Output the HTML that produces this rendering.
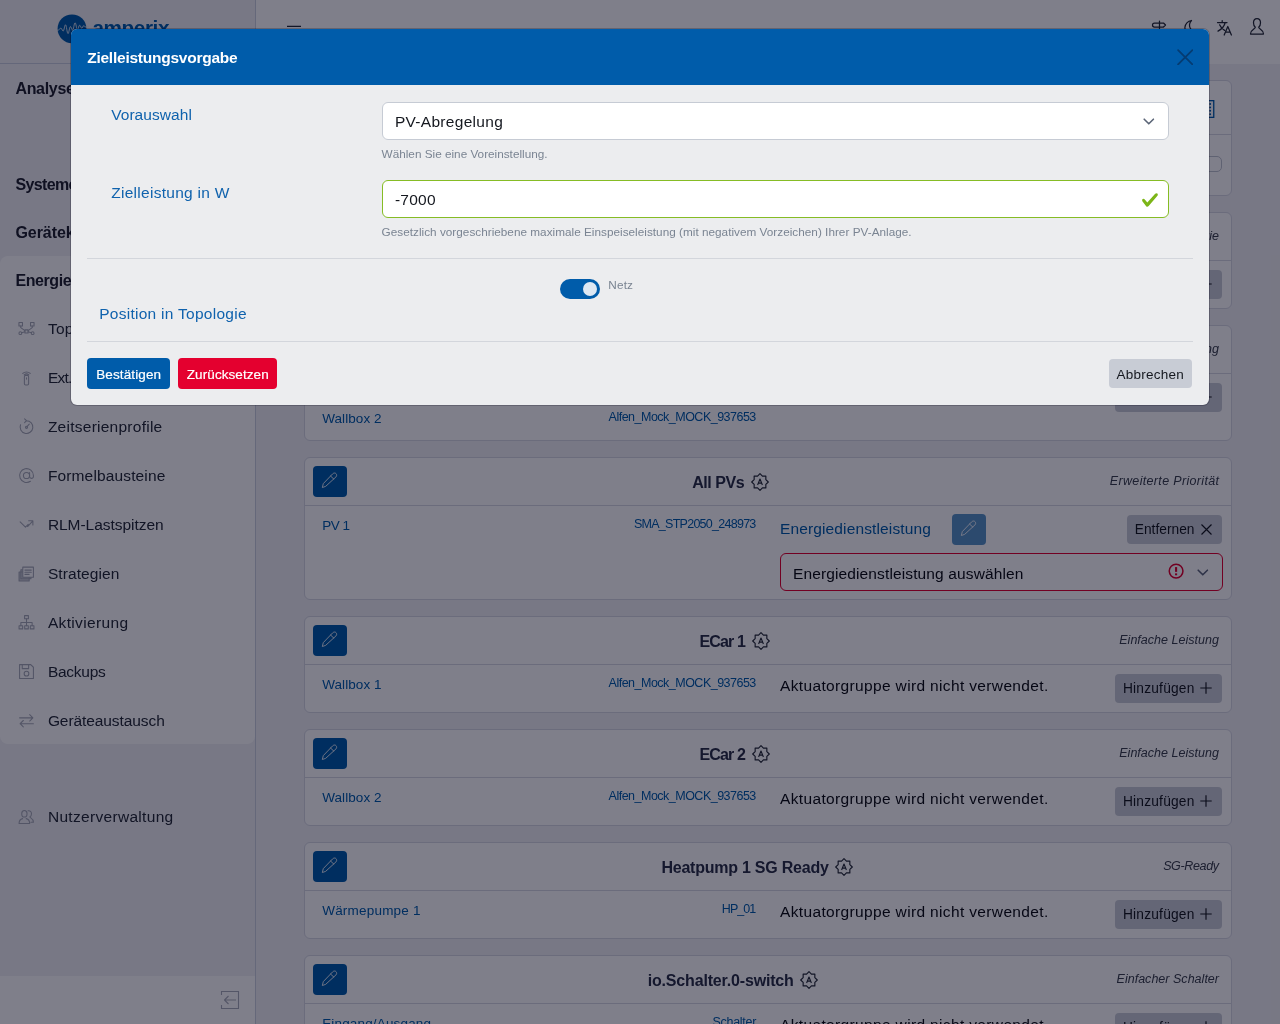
<!DOCTYPE html>
<html lang="de">
<head>
<meta charset="utf-8">
<title>amperix – Zielleistungsvorgabe</title>
<style>
*{box-sizing:border-box;margin:0;padding:0}
html,body{width:1280px;height:1024px;overflow:hidden}
body{position:relative;background:#f3f4f7;font-family:"Liberation Sans",sans-serif;color:#252b36;font-size:16px}
.t{position:absolute;white-space:nowrap;line-height:1}
.abs{position:absolute;display:block}
.wb{-webkit-text-stroke:.2px #fff}
button{font:inherit;border:0;background:none;position:absolute;display:block;text-align:left}
#app{position:absolute;left:0;top:0;width:1280px;height:1024px;overflow:hidden;background:#f0f0f4}
aside{position:absolute;left:0;top:0;width:256px;height:1024px;background:#f0f0f4;border-right:1px solid #cbd0df}
header{position:absolute;left:256px;top:0;width:1024px;height:64px;background:#fff}
header .abs{margin-left:-256px}
main{position:absolute;left:0;top:0;width:1280px;height:1024px}
.vhr{position:absolute;background:#c8cedf;display:block}
.grp{position:absolute;background:#fff;border-radius:8px}
.nl{position:absolute;left:0;width:255px;height:48px;display:block;color:#a6aab6}
.ni{position:absolute;left:17.500px;top:16.500px}
.sfoot{position:absolute;left:0;top:976px;width:255px;height:48px;background:#fff}
.card{position:absolute;background:#fff;border:1px solid #d6d8e3;border-radius:6px;box-sizing:content-box}
.ci{position:absolute;left:1px;top:0;width:925px;height:100%}
.hr{position:absolute;left:-1px;right:0;height:1px;background:#d6d8e3;display:block}
.ebtn{width:34px;height:31px;border-radius:4px;background:#005caa;color:#e8eef6}
.ebtn .ic{position:absolute;left:8.400px;top:6.100px}
.gbtn{height:29px;border-radius:4px;background:#c9cdd6}
.pbtn{height:31px;border-radius:4px}
.sel{position:absolute;background:#fff;border:1px solid #c6cbd4;border-radius:6px;box-sizing:content-box}
.sel.inv{border-color:#e4002f}
.sel.val{border-color:#86bc25}
.sw{position:absolute;width:32px;height:16px;border:1px solid #bfc4ce;border-radius:5px;background:#fff}
#backdrop{position:absolute;left:0;top:0;width:1280px;height:1024px;background:rgba(0,0,21,.5)}
#modal{position:absolute;left:70px;top:28px;width:1140px;height:378px;border:1px solid rgba(0,0,21,.22);border-radius:7px;background:#ecedef;background-clip:padding-box;overflow:hidden}
.mhead{position:absolute;left:0;top:0;width:1138px;height:56px;background:#005caa}
.mhr{position:absolute;left:16px;width:1106px;height:1px;background:#d3d6dc;display:block}
.tog{position:absolute;width:40px;height:20px;border-radius:10px;background:#005caa}
.tog i{position:absolute;left:23px;top:3px;width:14px;height:14px;border-radius:7px;background:#dde8f3}
</style>
</head>
<body>
<div id="app">
<aside>
<div class="brand"><svg class="abs" style="left:55px;top:12px" width="36" height="34" viewBox="0 0 36 34"><circle cx="17" cy="16.8" r="14.4" fill="#005caa"/><path d="M2.600 18.400c1.600-.2 2.400-2.400 3.400-2.200s1.200 2.800 2.200 2.800 1.300-6.200 2.300-6.200 1.500 8.800 2.500 8.800 1.400-7 2.400-7 1.300 3.600 2.200 3.600 1.500-7.400 2.500-7.400 1.300 6.800 2.300 6.800 1.300-4.400 2.200-4.400 1.300 3 2.100 3 1.300-2.600 2.100-2.600 1.300 1.700 2.200 1.600 1.700-.7 2.600-.6" fill="none" stroke="#dfe6f0" stroke-width="0.9" stroke-linejoin="round" stroke-linecap="round"/></svg><span class="t logo" style="left:92.50px;top:18.14px;font-size:20.75px;color:#005caa;font-weight:700;letter-spacing:-0.441px">amperix</span></div>
<i class="vhr" style="left:0;top:63px;width:255px;height:1px"></i>
<div class="grp" style="left:0;top:256px;width:255px;height:488px"></div>
<span class="t nt" style="left:15.40px;top:80.56px;font-size:16.0px;color:#20232f;font-weight:700;letter-spacing:-0.300px">Analyse</span>
<span class="t nt" style="left:15.40px;top:176.56px;font-size:16.0px;color:#20232f;font-weight:700;letter-spacing:-0.620px">Systemeinstellungen</span>
<span class="t nt" style="left:15.40px;top:224.56px;font-size:16.0px;color:#20232f;font-weight:700;letter-spacing:-0.040px">Gerätekonfiguration</span>
<span class="t nt" style="left:15.40px;top:272.56px;font-size:16.0px;color:#20232f;font-weight:700;letter-spacing:-0.410px">Energiemanagement</span>
<a class="nl" style="top:303.7px"><svg class="ni" viewBox="0 0 16 16" width="17" height="17" fill="none" stroke="currentColor" stroke-width="1" stroke-linecap="round" stroke-linejoin="round"><rect x="0.900" y="2.300" width="3.300" height="3.300"/><rect x="11.800" y="2.300" width="3.300" height="3.300"/><rect x="6.500" y="9.300" width="3" height="3"/><circle cx="2.200" cy="12.400" r="1.300"/><circle cx="13.800" cy="12.400" r="1.300"/><path d="M2.600 5.600v1.600l3.900 2.800M13.400 5.600v1.600l-3.900 2.800M3.500 12l3-.900M12.500 12l-3-.900"/></svg><span class="t" style="left:47.90px;top:17.18px;font-size:15.5px;color:#252b36;letter-spacing:0.293px">Topologie</span></a>
<a class="nl" style="top:352.6px"><svg class="ni" viewBox="0 0 16 16" width="17" height="17" fill="none" stroke="currentColor" stroke-width="1" stroke-linecap="round" stroke-linejoin="round"><rect x="6" y="6" width="4" height="9" rx="1.2"/><path d="M4.5 4.2a5 5 0 0 1 7 0M5.8 5.6a3.2 3.2 0 0 1 4.4 0M8 8.3v1.2"/></svg><span class="t" style="left:47.90px;top:17.18px;font-size:15.5px;color:#252b36;letter-spacing:-0.750px">Ext. Steuerung</span></a>
<a class="nl" style="top:401.5px"><svg class="ni" viewBox="0 0 16 16" width="17" height="17" fill="none" stroke="currentColor" stroke-width="1" stroke-linecap="round" stroke-linejoin="round"><path d="M8 2.5a6 6 0 1 1-5.6 3.8M8 2.5l-1.8-1.7M8 2.5L6.2 4.3M8 8.5l2.6-2.8"/><circle cx="8" cy="8.8" r="1"/></svg><span class="t" style="left:47.90px;top:17.18px;font-size:15.5px;color:#252b36;letter-spacing:0.255px">Zeitserienprofile</span></a>
<a class="nl" style="top:450.5px"><svg class="ni" viewBox="0 0 16 16" width="17" height="17" fill="none" stroke="currentColor" stroke-width="1" stroke-linecap="round" stroke-linejoin="round"><circle cx="8" cy="8" r="2.900"/><path d="M10.900 5.100v3.800a1.800 1.800 0 0 0 3.600 0V8a6.500 6.500 0 1 0-2.800 5.400"/></svg><span class="t" style="left:47.90px;top:17.18px;font-size:15.5px;color:#252b36;letter-spacing:0.143px">Formelbausteine</span></a>
<a class="nl" style="top:499.5px"><svg class="ni" viewBox="0 0 16 16" width="17" height="17" fill="none" stroke="currentColor" stroke-width="1" stroke-linecap="round" stroke-linejoin="round"><path d="M2 5.5l5 5 2.6-2.6M14 4.5l-5 5.4M10 4.5h4v4"/></svg><span class="t" style="left:47.90px;top:17.18px;font-size:15.5px;color:#252b36;letter-spacing:-0.040px">RLM-Lastspitzen</span></a>
<a class="nl" style="top:548.5px"><svg class="ni" viewBox="0 0 16 16" width="17" height="17" fill="none" stroke="currentColor" stroke-width="1" stroke-linecap="round" stroke-linejoin="round"><path d="M1 6.500h9.500v8.500h-9.500zM2.700 4.500h9.500v8.500h-9.500z" fill="currentColor" fill-opacity=".55"/><path d="M4.500 2h10v9.500h-10z" fill="#fff"/><path d="M6.500 4.800h6M6.500 6.800h6M6.500 8.800h4"/></svg><span class="t" style="left:47.90px;top:17.18px;font-size:15.5px;color:#252b36;letter-spacing:0.084px">Strategien</span></a>
<a class="nl" style="top:597.5px"><svg class="ni" viewBox="0 0 16 16" width="17" height="17" fill="none" stroke="currentColor" stroke-width="1" stroke-linecap="round" stroke-linejoin="round"><rect x="6.2" y="1.5" width="3.6" height="3"/><rect x="1" y="11" width="3.4" height="3"/><rect x="6.3" y="11" width="3.4" height="3"/><rect x="11.6" y="11" width="3.4" height="3"/><path d="M8 4.5v6.5M2.7 11V8h10.6v3"/></svg><span class="t" style="left:47.90px;top:17.18px;font-size:15.5px;color:#252b36;letter-spacing:0.348px">Aktivierung</span></a>
<a class="nl" style="top:646.5px"><svg class="ni" viewBox="0 0 16 16" width="17" height="17" fill="none" stroke="currentColor" stroke-width="1" stroke-linecap="round" stroke-linejoin="round"><path d="M1.5 1.5h10.5l2.500 2.5v10.500h-13zM4 1.500v3.800h6v-3.800"/><circle cx="8" cy="10" r="2.2"/></svg><span class="t" style="left:47.90px;top:17.18px;font-size:15.5px;color:#252b36;letter-spacing:-0.250px">Backups</span></a>
<a class="nl" style="top:695.5px"><svg class="ni" viewBox="0 0 16 16" width="17" height="17" fill="none" stroke="currentColor" stroke-width="1" stroke-linecap="round" stroke-linejoin="round"><path d="M1.500 5.5h12.500M11 2.500l3 3-3 3M14.500 11h-12.500M5 8l-3 3 3 3"/></svg><span class="t" style="left:47.90px;top:17.18px;font-size:15.5px;color:#252b36;letter-spacing:-0.083px">Geräteaustausch</span></a>
<a class="nl" style="top:791.6px"><svg class="ni" viewBox="0 0 16 16" width="17" height="17" fill="none" stroke="currentColor" stroke-width="1" stroke-linecap="round" stroke-linejoin="round"><path d="M6 8.500c-1.600 0-2.500-1.400-2.500-3.200s.9-3 2.500-3 2.500 1.200 2.500 3-.9 3.200-2.500 3.200zM1 14.500c0-2.500 1.500-4 3.300-4.500M11 14.500c0-2.500-1.500-4-3.300-4.500M1 14.500h10M9.500 2.600c1.800-.4 3.200.8 3.200 2.800 0 1.500-.6 2.600-1.600 3 .3 1 3.400 1.200 3.400 5h-2.300"/></svg><span class="t" style="left:47.90px;top:17.18px;font-size:15.5px;color:#252b36;letter-spacing:0.312px">Nutzerverwaltung</span></a>
<div class="sfoot"><svg class="abs" style="left:220px;top:14px" width="20" height="20" viewBox="0 0 20 20" fill="none" stroke="#a9adb8" stroke-width="1.100"><path d="M5.5 1.500h13v17h-13M1.500 5v-3.500h4M1.500 15v3.500h4" /><path d="M16 10h-11.500M8.500 6l-4 4 4 4" stroke-linejoin="round"/></svg></div>
</aside>
<header>
<svg class="abs" style="left:286px;top:24px" width="16" height="16" viewBox="0 0 16 16" stroke="#252b36" stroke-width="1.3" fill="none"><path d="M1 2.400h14M1 8h14M1 13.600h14"/></svg>
<svg class="abs" style="left:1151px;top:19.500px" width="18" height="18" viewBox="0 0 18 18" fill="none" stroke="#252b36" stroke-width="1.25" stroke-linecap="round" stroke-linejoin="round"><path d="M8.500 1v16M3.500 3h9l2 2-2 2h-9a1.800 1.800 0 0 1 0-4zM14.500 9.500h-9l-2 2 2 2h9z"/></svg>
<svg class="abs" style="left:1183px;top:19px" width="18" height="18" viewBox="0 0 18 18" fill="none" stroke="#252b36" stroke-width="1.25" stroke-linecap="round" stroke-linejoin="round"><path d="M8.500 1.500a7.500 7.500 0 1 0 7.800 10.300 6.500 6.500 0 0 1-7.800-10.300z"/></svg>
<svg class="abs" style="left:1216px;top:19px" width="18" height="18" viewBox="0 0 18 18" fill="none" stroke="#252b36" stroke-width="1.25" stroke-linecap="round" stroke-linejoin="round"><path d="M1.500 3.500h9.500M6.200 1.500v2M9.200 3.500c-.8 3.600-3.400 6.600-7.200 8.600M3.600 5.800c1 2.400 2.600 4.200 5 5.600M8.200 16l3.600-8.500 3.600 8.500M9.500 13.200h4.600"/></svg>
<svg class="abs" style="left:1248px;top:17px" width="18" height="19" viewBox="0 0 18 19" fill="none" stroke="#252b36" stroke-width="1.25" stroke-linecap="round" stroke-linejoin="round"><path d="M9 1.500c2.300 0 3.500 1.700 3.500 4.200 0 2-.8 3.700-1.800 4.600 0 1.800 4.500 2 4.800 6.700h-13c.3-4.700 4.800-4.900 4.800-6.700-1-.9-1.800-2.600-1.800-4.600 0-2.500 1.200-4.200 3.500-4.200z"/></svg>
</header>
<main>
<section class="card" style="left:304px;top:80px;width:926px;height:114px"><div class="ci"><i class="hr" style="top:53px"></i><svg class="abs" style="left:890px;top:18px" width="20" height="20" viewBox="0 0 20 20" fill="none" stroke="#005caa" stroke-width="1.3"><rect x="0.650" y="1.650" width="17.100" height="16.700"/><g fill="#005caa" stroke="none"><circle cx="14.200" cy="5" r="0.950"/><circle cx="14.200" cy="8.400" r="0.950"/><circle cx="14.200" cy="11.800" r="0.950"/><circle cx="14.200" cy="15.200" r="0.950"/><circle cx="4" cy="5" r="0.950"/><circle cx="4" cy="8.400" r="0.950"/><circle cx="4" cy="11.800" r="0.950"/><circle cx="4" cy="15.200" r="0.950"/></g><path d="M6.500 5h5.500M6.500 8.400h5.500M6.500 11.800h5.500M6.500 15.200h5.500" stroke-width="1"/></svg><span class="sw" style="left:884px;top:75px"></span><span class="t" style="left:16.00px;top:20.38px;font-size:15.5px;color:#252b36;font-weight:700;letter-spacing:0.285px">Aktuatorgruppen</span><span class="t" style="left:16.00px;top:76.07px;font-size:13.5px;color:#252b36">Nur verwendete Aktuatorgruppen anzeigen</span></div></section>
<section class="card" style="left:304px;top:212px;width:926px;height:95px"><div class="ci"><button class="ebtn" style="left:7px;top:8px"><svg class="ic" viewBox="0 0 17 17" width="16.200" height="16.200" fill="none" stroke="currentColor" stroke-width="1" stroke-linejoin="round" stroke-linecap="round"><path d="M1.500 15.900l.900-3.700 9.800-10.200c1.300-1.300 3-1.100 3.700-.1.800 1 .700 2.300-.2 3.300l-10.500 9.600z"/><path d="M10 4.200l3.500 3.300"/></svg></button><span class="t h" style="left:330.00px;top:17.38px;font-size:15.5px;color:#252b36;font-weight:700;letter-spacing:-0.040px">Netzanschlusspunkt</span><span class="t" style="right:12.06px;top:17.17px;font-size:12.5px;color:#3a404c;font-style:italic;letter-spacing:-0.064px">Einfache Strategie</span><i class="hr" style="top:47px"></i><span class="t" style="left:16.20px;top:60.82px;font-size:13.5px;color:#005caa;letter-spacing:-0.190px">Netz</span><span class="t" style="right:475.00px;top:59.77px;font-size:12.5px;color:#005caa;letter-spacing:-0.301px">Janitza_UMG604_112233</span><span class="t" style="left:474.00px;top:60.88px;font-size:15.5px;color:#0b0d12;letter-spacing:0.353px">Aktuatorgruppe wird nicht verwendet.</span><button class="gbtn" style="left:809px;top:57px;width:107px"><span class="t" style="left:8.00px;top:8.06px;font-size:13.75px;color:#15181f;letter-spacing:0.194px">Hinzufügen</span><svg class="abs" style="left:85.3px;top:8.2px" width="12" height="12" viewBox="0 0 12 12" stroke="#15181f" stroke-width="1.15" fill="none"><path d="M6 0.3v11.4M0.3 6h11.4"/></svg></button></div></section>
<section class="card" style="left:304px;top:325px;width:926px;height:114px"><div class="ci"><button class="ebtn" style="left:7px;top:8px"><svg class="ic" viewBox="0 0 17 17" width="16.200" height="16.200" fill="none" stroke="currentColor" stroke-width="1" stroke-linejoin="round" stroke-linecap="round"><path d="M1.500 15.900l.900-3.700 9.800-10.200c1.300-1.300 3-1.100 3.700-.1.800 1 .700 2.300-.2 3.300l-10.500 9.600z"/><path d="M10 4.200l3.500 3.300"/></svg></button><span class="t h" style="left:330.00px;top:17.38px;font-size:15.5px;color:#252b36;font-weight:700;letter-spacing:-0.169px">All Wallboxes</span><span class="t" style="right:12.02px;top:17.17px;font-size:12.5px;color:#3a404c;font-style:italic;letter-spacing:-0.022px">Einfache Leistung</span><i class="hr" style="top:47px"></i><span class="t" style="left:16.20px;top:62.07px;font-size:13.5px;color:#005caa;letter-spacing:0.081px">Wallbox 1</span><span class="t" style="right:475.21px;top:61.02px;font-size:12.5px;color:#005caa;letter-spacing:-0.510px">Alfen_Mock_MOCK_937653</span><span class="t" style="left:16.20px;top:86.07px;font-size:13.5px;color:#005caa;letter-spacing:0.081px">Wallbox 2</span><span class="t" style="right:475.21px;top:85.02px;font-size:12.5px;color:#005caa;letter-spacing:-0.510px">Alfen_Mock_MOCK_937653</span><span class="t" style="left:474.00px;top:60.88px;font-size:15.5px;color:#0b0d12;letter-spacing:0.353px">Aktuatorgruppe wird nicht verwendet.</span><button class="gbtn" style="left:809px;top:57px;width:107px"><span class="t" style="left:8.00px;top:8.06px;font-size:13.75px;color:#15181f;letter-spacing:0.194px">Hinzufügen</span><svg class="abs" style="left:85.3px;top:8.2px" width="12" height="12" viewBox="0 0 12 12" stroke="#15181f" stroke-width="1.15" fill="none"><path d="M6 0.3v11.4M0.3 6h11.4"/></svg></button></div></section>
<section class="card" style="left:304px;top:457px;width:926px;height:141px"><div class="ci"><button class="ebtn" style="left:7px;top:8px"><svg class="ic" viewBox="0 0 17 17" width="16.200" height="16.200" fill="none" stroke="currentColor" stroke-width="1" stroke-linejoin="round" stroke-linecap="round"><path d="M1.500 15.900l.900-3.700 9.800-10.200c1.300-1.300 3-1.100 3.700-.1.800 1 .700 2.300-.2 3.300l-10.500 9.600z"/><path d="M10 4.200l3.500 3.300"/></svg></button><span class="t h" style="left:386.20px;top:16.96px;font-size:16.0px;color:#2a3046;font-weight:700;letter-spacing:-0.448px">All PVs</span><svg class="abs" style="left:444.7px;top:14.5px" width="18" height="18" viewBox="0 0 18 18" fill="none" stroke="#252b36" stroke-width="1.15" stroke-linejoin="round"><polygon points="9.00,0.70 11.41,3.18 14.87,3.13 14.82,6.59 17.30,9.00 14.82,11.41 14.87,14.87 11.41,14.82 9.00,17.30 6.59,14.82 3.13,14.87 3.18,11.41 0.70,9.00 3.18,6.59 3.13,3.13 6.59,3.18"/><path d="M6.6 12l2.4-6 2.4 6M7.4 10.1h3.2" stroke-width="1.1"/></svg><span class="t" style="right:11.67px;top:17.42px;font-size:12.5px;color:#3a404c;font-style:italic;letter-spacing:0.335px">Erweiterte Priorität</span><i class="hr" style="top:47px"></i><span class="t" style="left:16.20px;top:60.97px;font-size:13.5px;color:#005caa;letter-spacing:-0.442px">PV 1</span><span class="t" style="right:475.43px;top:59.82px;font-size:12.5px;color:#005caa;letter-spacing:-0.735px">SMA_STP2050_248973</span><span class="t" style="left:474.00px;top:63.38px;font-size:15.5px;color:#005caa;letter-spacing:0.133px">Energiedienstleistung</span><button class="ebtn" style="left:646px;top:56px;opacity:.65"><svg class="ic" viewBox="0 0 17 17" width="16.200" height="16.200" fill="none" stroke="currentColor" stroke-width="1" stroke-linejoin="round" stroke-linecap="round"><path d="M1.500 15.900l.900-3.700 9.800-10.200c1.300-1.300 3-1.100 3.700-.1.800 1 .700 2.300-.2 3.300l-10.500 9.600z"/><path d="M10 4.200l3.500 3.300"/></svg></button><button class="gbtn" style="left:821px;top:57px;width:95px"><span class="t" style="left:7.80px;top:8.26px;font-size:13.75px;color:#15181f">Entfernen</span><svg class="abs" style="left:74.2px;top:9px" width="11" height="11" viewBox="0 0 11 11" stroke="#15181f" stroke-width="1.15" fill="none"><path d="M0.5 0.5l10 10M10.5 0.5l-10 10"/></svg></button><div class="sel inv" style="left:474px;top:95px;width:441px;height:36px;"><span class="t" style="left:12.00px;top:11.68px;font-size:15.5px;color:#0b0d12;letter-spacing:0.125px">Energiedienstleistung auswählen</span><svg class="abs" style="left:387.400px;top:9.200px" width="16.200" height="16.200" viewBox="0 0 17 17" fill="none" stroke="#e4002f" stroke-width="1.600"><circle cx="8.500" cy="8.500" r="7.200"/><path d="M8.500 4.300v5" stroke-width="2.200"/><rect x="7.400" y="10.900" width="2.200" height="2" fill="#e4002f" stroke="none"/></svg><svg class="abs" style="left:416px;top:15px" width="12" height="8" viewBox="0 0 12 8" stroke="#5d667b" stroke-width="1.600" fill="none" stroke-linecap="round" stroke-linejoin="round"><path d="M1.200 1.200l4.600 4.600 4.600-4.600"/></svg></div></div></section>
<section class="card" style="left:304px;top:616px;width:926px;height:95px"><div class="ci"><button class="ebtn" style="left:7px;top:8px"><svg class="ic" viewBox="0 0 17 17" width="16.200" height="16.200" fill="none" stroke="currentColor" stroke-width="1" stroke-linejoin="round" stroke-linecap="round"><path d="M1.500 15.900l.900-3.700 9.800-10.200c1.300-1.300 3-1.100 3.700-.1.800 1 .700 2.300-.2 3.300l-10.500 9.600z"/><path d="M10 4.200l3.500 3.300"/></svg></button><span class="t h" style="left:393.50px;top:16.96px;font-size:16.0px;color:#2a3046;font-weight:700;letter-spacing:-0.866px">ECar 1</span><svg class="abs" style="left:445.5px;top:14.5px" width="18" height="18" viewBox="0 0 18 18" fill="none" stroke="#252b36" stroke-width="1.15" stroke-linejoin="round"><polygon points="9.00,0.70 11.41,3.18 14.87,3.13 14.82,6.59 17.30,9.00 14.82,11.41 14.87,14.87 11.41,14.82 9.00,17.30 6.59,14.82 3.13,14.87 3.18,11.41 0.70,9.00 3.18,6.59 3.13,3.13 6.59,3.18"/><path d="M6.6 12l2.4-6 2.4 6M7.4 10.1h3.2" stroke-width="1.1"/></svg><span class="t" style="right:11.98px;top:17.17px;font-size:12.5px;color:#3a404c;font-style:italic;letter-spacing:0.025px">Einfache Leistung</span><i class="hr" style="top:47px"></i><span class="t" style="left:16.20px;top:60.82px;font-size:13.5px;color:#005caa;letter-spacing:0.081px">Wallbox 1</span><span class="t" style="right:475.21px;top:59.77px;font-size:12.5px;color:#005caa;letter-spacing:-0.510px">Alfen_Mock_MOCK_937653</span><span class="t" style="left:474.00px;top:60.88px;font-size:15.5px;color:#0b0d12;letter-spacing:0.353px">Aktuatorgruppe wird nicht verwendet.</span><button class="gbtn" style="left:809px;top:57px;width:107px"><span class="t" style="left:8.00px;top:8.06px;font-size:13.75px;color:#15181f;letter-spacing:0.194px">Hinzufügen</span><svg class="abs" style="left:85.3px;top:8.2px" width="12" height="12" viewBox="0 0 12 12" stroke="#15181f" stroke-width="1.15" fill="none"><path d="M6 0.3v11.4M0.3 6h11.4"/></svg></button></div></section>
<section class="card" style="left:304px;top:729px;width:926px;height:95px"><div class="ci"><button class="ebtn" style="left:7px;top:8px"><svg class="ic" viewBox="0 0 17 17" width="16.200" height="16.200" fill="none" stroke="currentColor" stroke-width="1" stroke-linejoin="round" stroke-linecap="round"><path d="M1.500 15.900l.900-3.700 9.800-10.200c1.300-1.300 3-1.100 3.700-.1.800 1 .700 2.300-.2 3.300l-10.500 9.600z"/><path d="M10 4.200l3.500 3.300"/></svg></button><span class="t h" style="left:393.50px;top:16.96px;font-size:16.0px;color:#2a3046;font-weight:700;letter-spacing:-0.866px">ECar 2</span><svg class="abs" style="left:445.5px;top:14.5px" width="18" height="18" viewBox="0 0 18 18" fill="none" stroke="#252b36" stroke-width="1.15" stroke-linejoin="round"><polygon points="9.00,0.70 11.41,3.18 14.87,3.13 14.82,6.59 17.30,9.00 14.82,11.41 14.87,14.87 11.41,14.82 9.00,17.30 6.59,14.82 3.13,14.87 3.18,11.41 0.70,9.00 3.18,6.59 3.13,3.13 6.59,3.18"/><path d="M6.6 12l2.4-6 2.4 6M7.4 10.1h3.2" stroke-width="1.1"/></svg><span class="t" style="right:11.98px;top:17.17px;font-size:12.5px;color:#3a404c;font-style:italic;letter-spacing:0.025px">Einfache Leistung</span><i class="hr" style="top:47px"></i><span class="t" style="left:16.20px;top:60.82px;font-size:13.5px;color:#005caa;letter-spacing:0.081px">Wallbox 2</span><span class="t" style="right:475.21px;top:59.77px;font-size:12.5px;color:#005caa;letter-spacing:-0.510px">Alfen_Mock_MOCK_937653</span><span class="t" style="left:474.00px;top:60.88px;font-size:15.5px;color:#0b0d12;letter-spacing:0.353px">Aktuatorgruppe wird nicht verwendet.</span><button class="gbtn" style="left:809px;top:57px;width:107px"><span class="t" style="left:8.00px;top:8.06px;font-size:13.75px;color:#15181f;letter-spacing:0.194px">Hinzufügen</span><svg class="abs" style="left:85.3px;top:8.2px" width="12" height="12" viewBox="0 0 12 12" stroke="#15181f" stroke-width="1.15" fill="none"><path d="M6 0.3v11.4M0.3 6h11.4"/></svg></button></div></section>
<section class="card" style="left:304px;top:842px;width:926px;height:95px"><div class="ci"><button class="ebtn" style="left:7px;top:8px"><svg class="ic" viewBox="0 0 17 17" width="16.200" height="16.200" fill="none" stroke="currentColor" stroke-width="1" stroke-linejoin="round" stroke-linecap="round"><path d="M1.500 15.900l.900-3.700 9.800-10.200c1.300-1.300 3-1.100 3.700-.1.800 1 .700 2.300-.2 3.300l-10.500 9.600z"/><path d="M10 4.200l3.500 3.300"/></svg></button><span class="t h" style="left:355.40px;top:16.96px;font-size:16.0px;color:#2a3046;font-weight:700;letter-spacing:-0.232px">Heatpump 1 SG Ready</span><svg class="abs" style="left:529.0999999999999px;top:14.5px" width="18" height="18" viewBox="0 0 18 18" fill="none" stroke="#252b36" stroke-width="1.15" stroke-linejoin="round"><polygon points="9.00,0.70 11.41,3.18 14.87,3.13 14.82,6.59 17.30,9.00 14.82,11.41 14.87,14.87 11.41,14.82 9.00,17.30 6.59,14.82 3.13,14.87 3.18,11.41 0.70,9.00 3.18,6.59 3.13,3.13 6.59,3.18"/><path d="M6.6 12l2.4-6 2.4 6M7.4 10.1h3.2" stroke-width="1.1"/></svg><span class="t" style="right:12.36px;top:17.17px;font-size:12.5px;color:#3a404c;font-style:italic;letter-spacing:-0.357px">SG-Ready</span><i class="hr" style="top:47px"></i><span class="t" style="left:16.20px;top:60.82px;font-size:13.5px;color:#005caa;letter-spacing:0.205px">Wärmepumpe 1</span><span class="t" style="right:475.64px;top:59.77px;font-size:12.5px;color:#005caa;letter-spacing:-0.944px">HP_01</span><span class="t" style="left:474.00px;top:60.88px;font-size:15.5px;color:#0b0d12;letter-spacing:0.353px">Aktuatorgruppe wird nicht verwendet.</span><button class="gbtn" style="left:809px;top:57px;width:107px"><span class="t" style="left:8.00px;top:8.06px;font-size:13.75px;color:#15181f;letter-spacing:0.194px">Hinzufügen</span><svg class="abs" style="left:85.3px;top:8.2px" width="12" height="12" viewBox="0 0 12 12" stroke="#15181f" stroke-width="1.15" fill="none"><path d="M6 0.3v11.4M0.3 6h11.4"/></svg></button></div></section>
<section class="card" style="left:304px;top:955px;width:926px;height:95px"><div class="ci"><button class="ebtn" style="left:7px;top:8px"><svg class="ic" viewBox="0 0 17 17" width="16.200" height="16.200" fill="none" stroke="currentColor" stroke-width="1" stroke-linejoin="round" stroke-linecap="round"><path d="M1.500 15.900l.900-3.700 9.800-10.200c1.300-1.300 3-1.100 3.700-.1.800 1 .700 2.300-.2 3.300l-10.500 9.600z"/><path d="M10 4.200l3.500 3.300"/></svg></button><span class="t h" style="left:341.70px;top:16.96px;font-size:16.0px;color:#2a3046;font-weight:700;letter-spacing:-0.169px">io.Schalter.0-switch</span><svg class="abs" style="left:494.20000000000005px;top:14.5px" width="18" height="18" viewBox="0 0 18 18" fill="none" stroke="#252b36" stroke-width="1.15" stroke-linejoin="round"><polygon points="9.00,0.70 11.41,3.18 14.87,3.13 14.82,6.59 17.30,9.00 14.82,11.41 14.87,14.87 11.41,14.82 9.00,17.30 6.59,14.82 3.13,14.87 3.18,11.41 0.70,9.00 3.18,6.59 3.13,3.13 6.59,3.18"/><path d="M6.6 12l2.4-6 2.4 6M7.4 10.1h3.2" stroke-width="1.1"/></svg><span class="t" style="right:11.98px;top:17.17px;font-size:12.5px;color:#3a404c;font-style:italic;letter-spacing:0.020px">Einfacher Schalter</span><i class="hr" style="top:47px"></i><span class="t" style="left:16.20px;top:60.82px;font-size:13.5px;color:#005caa;letter-spacing:0.161px">Eingang/Ausgang</span><span class="t" style="right:474.99px;top:59.77px;font-size:12.5px;color:#005caa;letter-spacing:-0.295px">Schalter</span><span class="t" style="left:474.00px;top:60.88px;font-size:15.5px;color:#0b0d12;letter-spacing:0.353px">Aktuatorgruppe wird nicht verwendet.</span><button class="gbtn" style="left:809px;top:57px;width:107px"><span class="t" style="left:8.00px;top:8.06px;font-size:13.75px;color:#15181f;letter-spacing:0.194px">Hinzufügen</span><svg class="abs" style="left:85.3px;top:8.2px" width="12" height="12" viewBox="0 0 12 12" stroke="#15181f" stroke-width="1.15" fill="none"><path d="M6 0.3v11.4M0.3 6h11.4"/></svg></button></div></section>
</main>
</div>
<div id="backdrop"></div>
<div id="modal" role="dialog">
<div class="mhead"><span class="t" style="left:16.20px;top:21.18px;font-size:15.5px;color:#fff;font-weight:700;letter-spacing:-0.237px">Zielleistungsvorgabe</span><svg class="abs" style="left:1106px;top:20px" width="16" height="16" viewBox="0 0 16 16" stroke="#053c72" stroke-width="1.800" fill="none" stroke-linecap="round"><path d="M1.100 1.100l14.300 14.300M15.400 1.100L1.100 15.400"/></svg></div>
<span class="t" style="left:40.20px;top:77.98px;font-size:15.5px;color:#0f62ad;letter-spacing:0.057px">Vorauswahl</span>
<div class="sel" style="left:311px;top:73px;width:785px;height:36px;"><span class="t" style="left:11.90px;top:11.28px;font-size:15.5px;color:#15181f;letter-spacing:0.302px">PV-Abregelung</span><svg class="abs" style="left:759.5px;top:15px" width="12" height="8" viewBox="0 0 12 8" stroke="#5b6577" stroke-width="1.600" fill="none" stroke-linecap="round" stroke-linejoin="round"><path d="M1.200 1.200l4.600 4.600 4.600-4.600"/></svg></div>
<span class="t" style="left:310.60px;top:118.55px;font-size:11.75px;color:#7a8492">Wählen Sie eine Voreinstellung.</span>
<span class="t" style="left:40.20px;top:156.13px;font-size:15.5px;color:#0f62ad;letter-spacing:0.282px">Zielleistung in W</span>
<div class="sel val" style="left:311px;top:151px;width:785px;height:36px;"><span class="t" style="left:11.90px;top:10.98px;font-size:15.5px;color:#15181f;letter-spacing:0.271px">-7000</span><svg class="abs" style="left:758px;top:9.500px" width="18" height="18" viewBox="0 0 8 8"><path fill="#7cb518" d="M2.300 6.730.6 4.530c-.4-1.040.46-1.400 1.100-.8l1.100 1.400 3.400-3.800c.6-.630 1.600-.270 1.200.7l-4 4.600c-.430.5-.8.400-1.100.1z"/></svg></div>
<span class="t" style="left:310.60px;top:197.35px;font-size:11.75px;color:#7a8492;letter-spacing:0.017px">Gesetzlich vorgeschriebene maximale Einspeiseleistung (mit negativem Vorzeichen) Ihrer PV-Anlage.</span>
<i class="mhr" style="top:229px"></i>
<span class="tog" style="left:489px;top:250px"><i></i></span>
<span class="t" style="left:537.20px;top:249.65px;font-size:11.75px;color:#7a8492;letter-spacing:0.210px">Netz</span>
<span class="t" style="left:28.20px;top:277.08px;font-size:15.5px;color:#0f62ad;letter-spacing:0.271px">Position in Topologie</span>
<i class="mhr" style="top:312px"></i>
<button class="pbtn" style="left:16px;top:329px;width:83px;background:#005caa"><span class="t wb" style="left:9.20px;top:9.77px;font-size:13.5px;color:#fff;letter-spacing:0.120px">Bestätigen</span></button>
<button class="pbtn" style="left:107px;top:329px;width:99px;background:#e4002f"><span class="t wb" style="left:8.80px;top:9.77px;font-size:13.5px;color:#fff;letter-spacing:0.081px">Zurücksetzen</span></button>
<button class="gbtn" style="left:1038px;top:330px;width:83px;background:#c8ccd5"><span class="t" style="left:7.60px;top:8.82px;font-size:13.5px;color:#15181f;letter-spacing:0.233px">Abbrechen</span></button>
</div>
</body>
</html>
